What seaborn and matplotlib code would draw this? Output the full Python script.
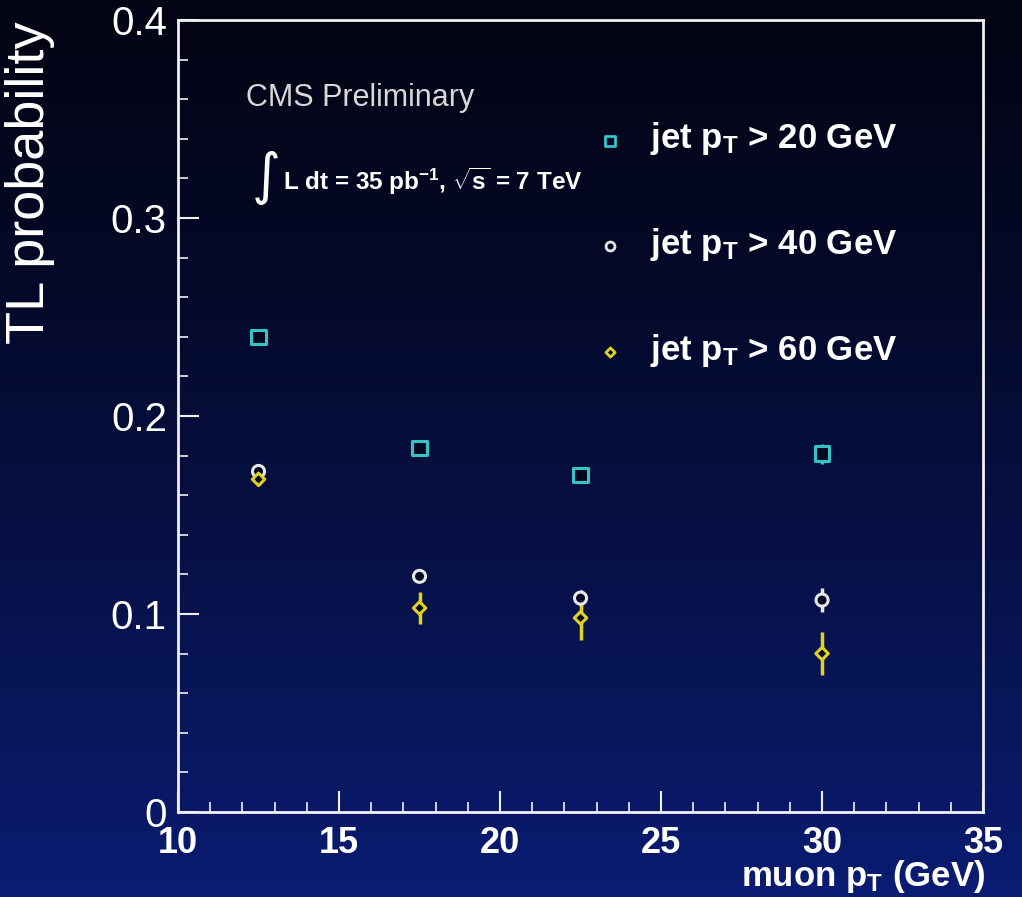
import numpy as np
import pandas as pd
import matplotlib
matplotlib.use("Agg")
import matplotlib.pyplot as plt
import seaborn as sns
from matplotlib.ticker import MultipleLocator

# ---- data ----
muon_pt = [12.5, 17.5, 22.5, 30.0]
series_labels = ["jet p$_T$ > 20 GeV", "jet p$_T$ > 40 GeV", "jet p$_T$ > 60 GeV"]
tl_20 = [0.240, 0.184, 0.170, 0.181]
err_20 = [0.002, 0.002, 0.002, 0.005]
tl_40 = [0.172, 0.119, 0.108, 0.107]
err_40 = [0.002, 0.002, 0.004, 0.006]
tl_60 = [0.168, 0.103, 0.098, 0.080]
err_60 = [0.003, 0.008, 0.011, 0.011]
x_ticks = [10, 15, 20, 25, 30, 35]
y_ticks = [0, 0.1, 0.2, 0.3, 0.4]
y_tick_labels = ["0", "0.1", "0.2", "0.3", "0.4"]

colors = ["#33c4c4", "#e6e6e6", "#e0d21e"]
markers = ["s", "o", "D"]
sizes = [105, 75, 40]

df = pd.DataFrame({
    "muon_pt": muon_pt * 3,
    "tl": tl_20 + tl_40 + tl_60,
    "err": err_20 + err_40 + err_60,
    "series": [series_labels[0]] * 4 + [series_labels[1]] * 4 + [series_labels[2]] * 4,
})

sns.set_style("white")
plt.rcParams["font.family"] = ["Liberation Sans", "DejaVu Sans"]
plt.rcParams["mathtext.fontset"] = "custom"
plt.rcParams["mathtext.rm"] = "Liberation Sans:bold"
plt.rcParams["mathtext.bf"] = "Liberation Sans:bold"
plt.rcParams["mathtext.default"] = "rm"

fig = plt.figure(figsize=(10.22, 8.97), dpi=100)

# background gradient
bg = fig.add_axes([0, 0, 1, 1], zorder=-10)
grad = np.linspace(0, 1, 256)[:, None]
top = np.array([0.01, 0.015, 0.08])
bot = np.array([0.04, 0.11, 0.45])
w = grad[:, :, None] ** 1.3
img = top[None, None, :] * (1 - w) + bot[None, None, :] * w
bg.imshow(img, aspect="auto", extent=[0, 1, 0, 1])
bg.axis("off")

ax = fig.add_axes([0.1742, 0.0948, 0.7877, 0.8829])
ax.set_facecolor("none")
ax.patch.set_alpha(0)

for lab, c in zip(series_labels, colors):
    sub = df[df["series"] == lab]
    ax.errorbar(sub["muon_pt"], sub["tl"], yerr=sub["err"], fmt="none",
                ecolor=c, elinewidth=2.5, capsize=0, zorder=2)

sns.scatterplot(data=df, x="muon_pt", y="tl", hue="series", style="series",
                hue_order=series_labels, style_order=series_labels,
                palette=colors, markers=markers, size="series",
                sizes=dict(zip(series_labels, sizes)), ax=ax, legend=False,
                zorder=3)
# make markers open (filled with dark background colour)
for coll in ax.collections:
    if len(coll.get_offsets()) == len(df):
        fc = coll.get_facecolors()
        coll.set_edgecolors(fc)
        coll.set_facecolors("#020620")
        coll.set_linewidths(2.2)

ax.set_xlim(10, 35)
ax.set_ylim(0, 0.4)
ax.set_xticks(x_ticks)
ax.set_yticks(y_ticks)
ax.set_yticklabels(y_tick_labels)
ax.xaxis.set_minor_locator(MultipleLocator(1))
ax.yaxis.set_minor_locator(MultipleLocator(0.02))

for sp in ax.spines.values():
    sp.set_color("#f0f0f0")
    sp.set_linewidth(2)

ax.tick_params(axis="both", which="both", bottom=True, left=True, top=False, right=False)
ax.tick_params(axis="both", which="major", direction="in", length=15, width=1.5,
               color="#f0f0f0", labelcolor="white")
ax.tick_params(axis="both", which="minor", direction="in", length=7.5, width=1.2,
               color="#f0f0f0")
ax.tick_params(axis="x", which="major", pad=10)
ax.tick_params(axis="y", which="major", pad=8, labelsize=29)
for t in ax.get_xticklabels():
    t.set_fontweight("bold")
    t.set_fontsize(26)

ax.set_ylabel("TL probability", color="white", fontsize=39)
ax.yaxis.set_label_coords(-0.153, 0.795)
ax.set_xlabel("muon p$_T$ (GeV)", color="white", fontsize=25, fontweight="bold")
ax.xaxis.set_label_coords(1.003, -0.058)
ax.xaxis.label.set_ha("right")

# legend (manual, ROOT-like)
leg_y = [0.339, 0.2857, 0.2321]
for lab, c, m, s, yy in zip(series_labels, colors, markers, sizes, leg_y):
    ax.scatter([23.42], [yy], marker=m, s=s * 0.55, facecolors="#020620",
               edgecolors=c, linewidths=2, zorder=4)
    ax.text(24.65, yy + 0.001, lab, color="white", fontsize=25, fontweight="bold",
            va="center", ha="left")

ax.text(12.1, 0.3605, "CMS Preliminary", color="#d8d8d8", fontsize=22, va="center")
ax.text(12.3, 0.32, "∫", color="white", fontsize=40, va="center",
        family=["DejaVu Sans"])
ax.text(13.25, 0.3185, r"L dt = 35 pb$^{-1}$, $\sqrt{s}$ = 7 TeV", color="white",
        fontsize=17.5, fontweight="bold", va="center")

fig.savefig("out.png", dpi=100)
